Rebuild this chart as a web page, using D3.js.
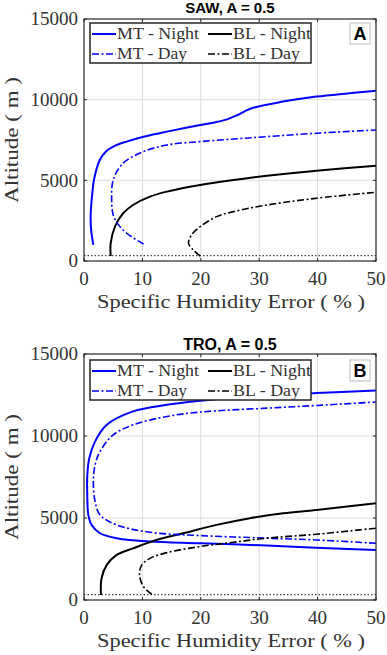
<!DOCTYPE html>
<html lang="en">
<head>
    <meta charset="UTF-8">
    <title>Specific humidity error profiles</title>
    <style>
        body { margin: 0; background: #fff; }
        .tick-label, .axis-label, .legend-text {
            font-family: "Liberation Serif", "Times New Roman", serif;
            fill: #333;
        }
        .title { font-family: "Liberation Sans", Arial, sans-serif; font-weight: bold; fill: #000; }
    </style>
    <script src="https://cdn.jsdelivr.net/npm/d3@7"></script>
</head>
<body>
<script>
// data: [error %, altitude m]
const sawMtNight = [[1.6,1000],[1.2,2000],[1.15,2960],[1.4,4100],[1.7,5020],[2.7,6260],[3.8,6800],[5.0,7090],[7.3,7400],[10.2,7700],[14.2,8020],[19.9,8430],[22.5,8600],[24.5,8780],[26.3,9050],[28.6,9450],[34.1,9880],[39.8,10190],[50,10560]];
const sawMtDay = [[10.2,1050],[7.3,1720],[5.8,2300],[5.0,2850],[4.74,3780],[5.0,5020],[6.7,6060],[10.2,6780],[14.2,7190],[19.9,7400],[25.6,7560],[31.3,7710],[39.8,7920],[50,8120]];
const sawBlNight = [[4.57,310],[4.57,1100],[5.3,2130],[6.7,2960],[8.4,3470],[11.3,3990],[14.2,4300],[19.9,4710],[25.6,5020],[31.3,5290],[39.8,5600],[50,5910]];
const sawBlDay = [[19.9,310],[18.7,680],[17.9,1100],[18.4,1610],[19.9,2130],[22.7,2750],[25.6,3060],[31.3,3470],[39.8,3890],[50,4260]];

const troMtNight = [[50,3050],[39.8,3190],[31.3,3320],[19.9,3460],[11.3,3560],[5.6,3770],[2.74,4070],[1.3,4580],[0.74,5190],[0.57,6210],[0.57,7630],[0.91,8650],[1.9,9670],[3.9,10680],[8.4,11500],[14.2,11900],[19.9,12150],[25.6,12350],[31.3,12450],[39.8,12620],[50,12780]];
const troMtDay = [[50,3460],[39.8,3660],[31.3,3770],[19.9,3930],[11.3,4130],[5.6,4580],[2.74,5190],[1.9,6000],[1.6,7220],[1.9,8240],[2.74,9050],[5.0,10070],[8.4,10680],[14.2,11190],[19.9,11460],[31.3,11700],[39.8,11860],[50,12070]];
const troBlNight = [[2.9,300],[3.0,1320],[3.9,2140],[5.6,2750],[8.4,3150],[12.4,3660],[17.0,4070],[22.7,4580],[28.4,4990],[34.1,5290],[39.8,5490],[50,5900]];
const troBlDay = [[11.6,350],[10.2,810],[9.5,1530],[9.9,2140],[11.3,2540],[14.2,2890],[19.9,3260],[25.6,3520],[31.3,3770],[39.8,4010],[50,4380]];

const xTicks = [0, 10, 20, 30, 40, 50];
const yTicks = [0, 5000, 10000, 15000];
const legendNames = ["MT - Night", "BL - Night", "MT - Day", "BL - Day"];
const surfaceLevel = 330; // dotted line near the ground

var svg = d3.select("body").append("svg")
    .attr("width", 387)
    .attr("height", 655);

// line styles for the four series (same order as legendNames)
var styles = [
    {color: "#0000ff", width: 2, dash: null},
    {color: "#000000", width: 2, dash: null},
    {color: "#0000ff", width: 1.6, dash: "7,2.5,2,2.5"},
    {color: "#000000", width: 1.6, dash: "7,2.5,2,2.5"}
];

function drawPanel(opts) {
    var left = 84, right = 376;
    var x = d3.scaleLinear().domain([0, 50]).range([left, right]);
    var y = d3.scaleLinear().domain([0, 15000]).range([opts.bottom, opts.top]);
    var g = svg.append("g");

    // grid
    g.selectAll(".vgrid").data(xTicks.slice(1, -1)).enter().append("line")
        .attr("x1", d => x(d)).attr("x2", d => x(d))
        .attr("y1", opts.top).attr("y2", opts.bottom)
        .attr("stroke", "#dcdcdc").attr("stroke-width", 1);
    g.selectAll(".hgrid").data(yTicks.slice(1, -1)).enter().append("line")
        .attr("x1", left).attr("x2", right)
        .attr("y1", d => y(d)).attr("y2", d => y(d))
        .attr("stroke", "#dcdcdc").attr("stroke-width", 1);

    // dotted surface line
    g.append("line")
        .attr("x1", x(0)).attr("x2", x(50))
        .attr("y1", y(surfaceLevel)).attr("y2", y(surfaceLevel))
        .attr("stroke", "#444").attr("stroke-width", 1.3)
        .attr("stroke-dasharray", "1.5,2");

    // curves
    var line = d3.line()
        .x(d => x(d[0]))
        .y(d => y(d[1]))
        .curve(d3.curveCatmullRom.alpha(0.5));
    opts.series.forEach(function (s, i) {
        g.append("path")
            .datum(s)
            .attr("d", line)
            .attr("fill", "none")
            .attr("stroke", styles[i].color)
            .attr("stroke-width", styles[i].width)
            .attr("stroke-dasharray", styles[i].dash);
    });

    // axes box and inward ticks
    g.append("rect")
        .attr("x", left).attr("y", opts.top)
        .attr("width", right - left).attr("height", opts.bottom - opts.top)
        .attr("fill", "none").attr("stroke", "#262626").attr("stroke-width", 1.2);
    xTicks.forEach(function (t) {
        g.append("line").attr("x1", x(t)).attr("x2", x(t)).attr("y1", opts.bottom).attr("y2", opts.bottom - 3).attr("stroke", "#262626");
        g.append("line").attr("x1", x(t)).attr("x2", x(t)).attr("y1", opts.top).attr("y2", opts.top + 3).attr("stroke", "#262626");
    });
    yTicks.forEach(function (t) {
        g.append("line").attr("x1", left).attr("x2", left + 3).attr("y1", y(t)).attr("y2", y(t)).attr("stroke", "#262626");
        g.append("line").attr("x1", right).attr("x2", right - 3).attr("y1", y(t)).attr("y2", y(t)).attr("stroke", "#262626");
    });

    // tick labels
    g.selectAll(".xl").data(xTicks).enter().append("text")
        .attr("class", "tick-label")
        .attr("x", d => x(d)).attr("y", opts.bottom + 24)
        .attr("text-anchor", "middle")
        .style("font-size", "19px")
        .text(d => d);
    g.selectAll(".yl").data(yTicks).enter().append("text")
        .attr("class", "tick-label")
        .attr("x", 78).attr("y", d => y(d))
        .attr("dy", "0.33em")
        .attr("text-anchor", "end")
        .style("font-size", "19px")
        .text(d => d);

    // axis labels
    g.append("text").attr("class", "axis-label")
        .attr("x", 231).attr("y", opts.bottom + 47)
        .attr("text-anchor", "middle")
        .attr("textLength", 268).attr("lengthAdjust", "spacingAndGlyphs")
        .style("font-size", "19px")
        .text("Specific Humidity Error ( % )");
    g.append("text").attr("class", "axis-label")
        .attr("transform", "translate(18," + ((opts.top + opts.bottom) / 2) + ") rotate(-90)")
        .attr("text-anchor", "middle")
        .attr("textLength", 126).attr("lengthAdjust", "spacingAndGlyphs")
        .style("font-size", "19px")
        .text("Altitude ( m )");

    // title
    g.append("text").attr("class", "title")
        .attr("x", 230).attr("y", opts.titleY)
        .attr("text-anchor", "middle")
        .style("font-size", opts.titleSize)
        .text(opts.title);

    // legend
    var lg = g.append("g").attr("transform", "translate(90," + (opts.top + opts.legendOff) + ")");
    lg.append("rect").attr("width", 221).attr("height", 40)
        .attr("fill", "#fff").attr("stroke", "#262626").attr("stroke-width", 1.5);
    legendNames.forEach(function (name, i) {
        var col = i % 2, row = Math.floor(i / 2);
        var lx = col === 0 ? 2 : 118, ly = row === 0 ? 11 : 31;
        lg.append("line")
            .attr("x1", lx).attr("x2", lx + 24)
            .attr("y1", ly).attr("y2", ly)
            .attr("stroke", styles[i].color)
            .attr("stroke-width", styles[i].width)
            .attr("stroke-dasharray", styles[i].dash);
        lg.append("text").attr("class", "legend-text")
            .attr("x", lx + 25).attr("y", ly + 5)
            .attr("textLength", col === 0 ? (row === 0 ? 82 : 70) : (row === 0 ? 78 : 67))
            .attr("lengthAdjust", "spacingAndGlyphs")
            .style("font-size", "16px")
            .text(name);
    });

    // panel letter box
    var bx = g.append("g").attr("transform", "translate(350," + (opts.top + opts.legendOff) + ")");
    bx.append("rect").attr("width", 20).attr("height", 21)
        .attr("fill", "#fff").attr("stroke", "#bbb").attr("stroke-width", 1);
    bx.append("text").attr("class", "title")
        .attr("x", 10).attr("y", 17)
        .attr("text-anchor", "middle")
        .style("font-size", "18px")
        .text(opts.letter);
}

drawPanel({top: 19, bottom: 261, titleY: 13, titleSize: "15px", legendOff: 4, title: "SAW, A = 0.5", letter: "A",
    series: [sawMtNight, sawBlNight, sawMtDay, sawBlDay]});
drawPanel({top: 354, bottom: 600, titleY: 350, titleSize: "16px", legendOff: 6, title: "TRO, A = 0.5", letter: "B",
    series: [troMtNight, troBlNight, troMtDay, troBlDay]});
</script>
</body>
</html>
